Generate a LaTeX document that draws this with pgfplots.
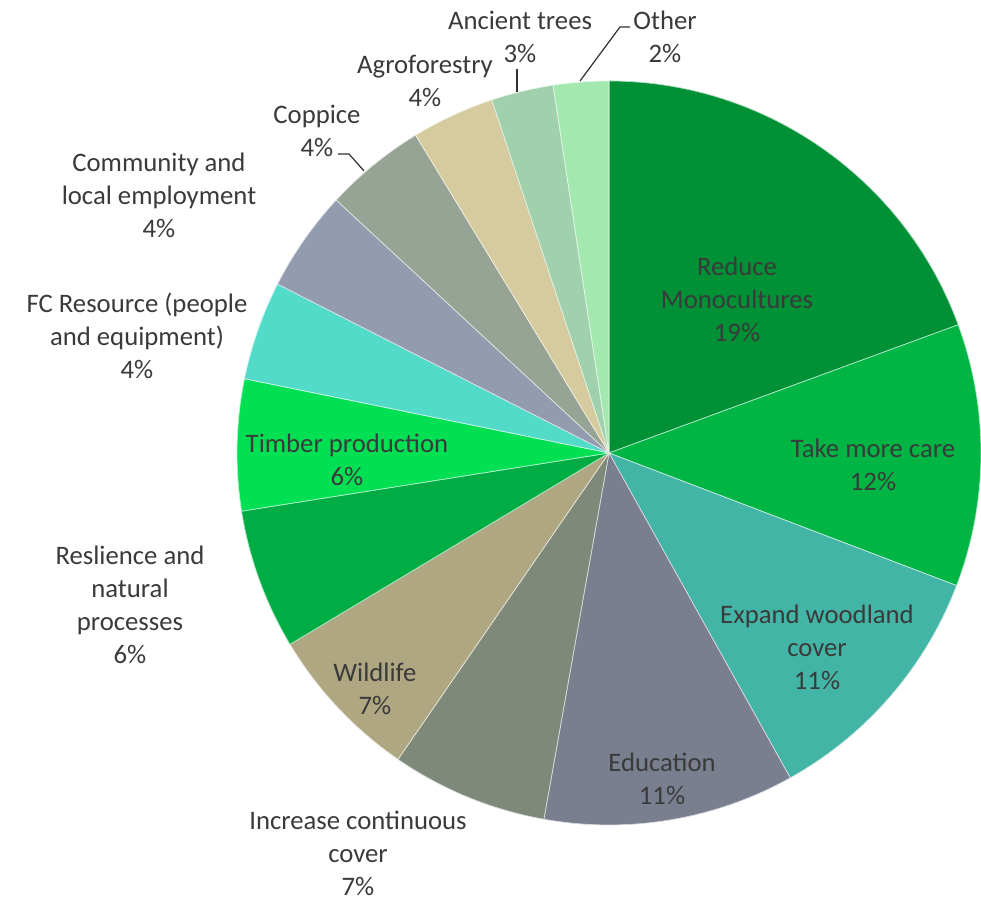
\documentclass[border=0pt]{standalone}
\usepackage{pgfplots}
\pgfplotsset{compat=1.18}
\usepackage{pgfplotstable}
\usepackage{fontspec}
\setmainfont{Carlito}

\definecolor{cA}{HTML}{009035}
\definecolor{cB}{HTML}{00B543}
\definecolor{cC}{HTML}{43B5A6}
\definecolor{cD}{HTML}{7A7F90}
\definecolor{cE}{HTML}{7E897A}
\definecolor{cF}{HTML}{AFA782}
\definecolor{cG}{HTML}{00AD44}
\definecolor{cH}{HTML}{00E052}
\definecolor{cI}{HTML}{52DBC8}
\definecolor{cJ}{HTML}{939BAF}
\definecolor{cK}{HTML}{97A394}
\definecolor{cL}{HTML}{D5CB9E}
\definecolor{cM}{HTML}{A0D1AC}
\definecolor{cN}{HTML}{A3E8AF}
\definecolor{txt}{HTML}{3A3A3A}

\tikzset{lbl/.style={font=\fontsize{7.6}{9.4}\selectfont, text=txt, align=center, inner sep=0pt}}

% share of responses, clockwise from 12 o'clock
\pgfplotstableread[col sep=comma]{
value,col
19.4,cA
11.4,cB
11.1,cC
10.9,cD
6.8,cE
6.8,cF
6.1,cG
5.7,cH
4.3,cI
4.4,cJ
4.4,cK
3.6,cL
2.7,cM
2.4,cN
}\piedata

\def\pr{3.72cm}
\def\slices{}
\def\cum{0}
\pgfplotsforeachungrouped \i in {0,...,13}{%
  \pgfplotstablegetelem{\i}{value}\of\piedata \let\v\pgfplotsretval
  \pgfplotstablegetelem{\i}{col}\of\piedata \let\c\pgfplotsretval
  \pgfmathsetmacro\sa{90-3.6*\cum}%
  \pgfmathsetmacro\cum{\cum+\v}%
  \pgfmathsetmacro\ea{90-3.6*\cum}%
  \xdef\slices{\unexpanded\expandafter{\slices}%
    \noexpand\fill[\c, draw=white!70!\c, line width=0.2pt] (axis cs:0,0) -- ++(\sa:\noexpand\pr)
      arc[start angle=\sa, end angle=\ea, radius=\noexpand\pr] -- cycle;}%
}

\begin{document}
\begin{tikzpicture}
\begin{axis}[
    scale only axis,
    width=9.81cm, height=9.01cm,
    xmin=-609, xmax=372, ymin=-448, ymax=453,
    hide axis, clip=false,
]
\addplot[draw=none] coordinates {(0,0)};
\slices
% labels
\node[lbl] at (axis cs:128,154) {Reduce\\Monocultures\\19\%};
\node[lbl] at (axis cs:264,-12) {Take more care\\12\%};
\node[lbl] at (axis cs:208,-194) {Expand woodland\\cover\\11\%};
\node[lbl] at (axis cs:53,-326) {Education\\11\%};
\node[lbl] at (axis cs:-251,-400) {Increase continuous\\cover\\7\%};
\node[lbl] at (axis cs:-234,-236) {Wildlife\\7\%};
\node[lbl] at (axis cs:-479,-152) {Reslience and\\natural\\processes\\6\%};
\node[lbl] at (axis cs:-262,-7) {Timber production\\6\%};
\node[lbl] at (axis cs:-472,117) {FC Resource (people\\and equipment)\\4\%};
\node[lbl] at (axis cs:-450,258) {Community and\\local employment\\4\%};
\node[lbl] at (axis cs:-292,322) {Coppice\\4\%};
\node[lbl] at (axis cs:-184,372) {Agroforestry\\4\%};
\node[lbl] at (axis cs:-89,416) {Ancient trees\\3\%};
\node[lbl] at (axis cs:56,416) {Other\\2\%};
% leader lines
\draw[black!80, line width=0.35pt] (axis cs:-92,384) -- (axis cs:-92,361);
\draw[black!80, line width=0.35pt] (axis cs:21,426) -- (axis cs:11,426) -- (axis cs:-29,372);
\draw[black!80, line width=0.35pt] (axis cs:-271,299) -- (axis cs:-260,299) -- (axis cs:-245,282);
\end{axis}
\pgfresetboundingbox
\path (current axis.south west) rectangle (current axis.north east);
\end{tikzpicture}
\end{document}
